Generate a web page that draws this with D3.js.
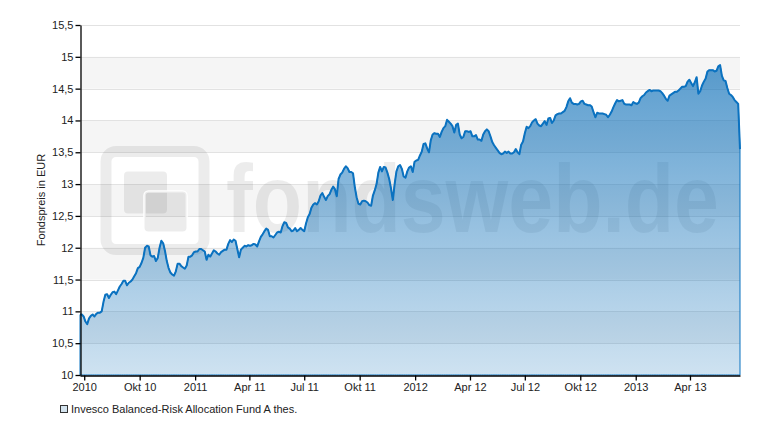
<!doctype html>
<html>
<head>
<meta charset="utf-8">
<script src="https://cdn.jsdelivr.net/npm/d3@7"></script>
<style>
  body { margin: 0; background: #fff; }
  svg text { font-family: "Liberation Sans", Arial, sans-serif; }
</style>
</head>
<body>
<script>
// fund price, sampled every 3 days from the start date
var startDate = "2010-06-24";
var stepDays = 3;
var prices = [
  10.95, 10.95, 10.92, 10.84, 10.80, 10.89, 10.93, 10.95, 10.92, 10.96,
  10.98, 10.98, 11.00, 11.15, 11.26, 11.27, 11.21, 11.26, 11.30, 11.31,
  11.27, 11.33, 11.39, 11.43, 11.48, 11.48, 11.41, 11.45, 11.47, 11.50,
  11.55, 11.60, 11.68, 11.70, 11.76, 11.84, 12.00, 12.03, 12.02, 11.88,
  11.86, 11.87, 11.79, 11.84, 12.00, 12.11, 12.07, 11.95, 11.79, 11.68,
  11.61, 11.58, 11.56, 11.63, 11.75, 11.75, 11.71, 11.69, 11.67, 11.72,
  11.86, 11.86, 11.88, 11.93, 11.94, 11.94, 11.98, 11.98, 11.96, 11.94,
  11.81, 11.89, 11.86, 11.91, 11.96, 11.94, 11.91, 11.89, 11.93, 11.95,
  11.97, 11.97, 12.06, 12.12, 12.09, 12.13, 12.11, 11.98, 11.85, 11.97,
  12.00, 12.03, 12.02, 12.04, 12.03, 12.04, 12.06, 12.05, 12.02, 12.10,
  12.17, 12.21, 12.26, 12.30, 12.28, 12.18, 12.18, 12.16, 12.20, 12.24,
  12.25, 12.24, 12.34, 12.40, 12.39, 12.32, 12.30, 12.26, 12.27, 12.31,
  12.26, 12.28, 12.31, 12.28, 12.26, 12.38, 12.48, 12.53, 12.63, 12.68,
  12.70, 12.68, 12.73, 12.82, 12.86, 12.80, 12.75, 12.81, 12.84, 12.91,
  12.96, 12.92, 12.81, 13.08, 13.15, 13.18, 13.24, 13.28, 13.25,
  13.19, 13.19, 13.17, 12.95, 12.79, 12.69, 12.68, 12.73, 12.74, 12.73,
  12.71, 12.67, 12.66, 12.82, 12.90, 13.00, 13.18, 13.27, 13.20, 13.27,
  13.26, 13.18, 13.08, 12.93, 12.75, 13.00, 13.20, 13.28, 13.30, 13.24,
  13.12, 13.10, 13.20, 13.26, 13.28, 13.19, 13.35, 13.37, 13.38, 13.45,
  13.51, 13.63, 13.64, 13.56, 13.50, 13.69, 13.78, 13.80, 13.79, 13.79,
  13.74, 13.82, 13.88, 13.91, 14.01, 13.98, 13.95, 13.91, 13.81, 13.93,
  13.95, 13.78, 13.72, 13.74, 13.83, 13.83, 13.82, 13.83, 13.75, 13.75,
  13.77, 13.70, 13.70, 13.68, 13.78, 13.83, 13.86, 13.83, 13.75, 13.66,
  13.61, 13.57, 13.53, 13.49, 13.47, 13.48, 13.51, 13.49, 13.51, 13.48,
  13.48, 13.50, 13.55, 13.50, 13.47, 13.62, 13.67, 13.80, 13.90, 13.88,
  13.91, 13.97, 14.00, 14.02, 13.95, 13.92, 13.91, 13.95, 13.99, 13.93,
  14.03, 14.04, 13.96, 14.00, 14.08, 14.10, 14.11, 14.11, 14.13, 14.15,
  14.21, 14.30, 14.35, 14.28, 14.26, 14.26, 14.25, 14.26, 14.30, 14.31,
  14.26, 14.25, 14.24, 14.24, 14.22, 14.13, 14.05, 14.12, 14.11, 14.11,
  14.11, 14.10, 14.09, 14.05, 14.09, 14.14, 14.21, 14.27, 14.32, 14.30,
  14.31, 14.32, 14.26, 14.25, 14.25, 14.25, 14.24, 14.29, 14.27, 14.26,
  14.28, 14.35, 14.38, 14.40, 14.44, 14.46, 14.48, 14.46, 14.47, 14.47,
  14.47, 14.47, 14.46, 14.43, 14.39, 14.34, 14.31, 14.39, 14.41, 14.43,
  14.45, 14.45, 14.47, 14.50, 14.53, 14.53, 14.54, 14.61, 14.64, 14.59,
  14.54, 14.60, 14.68, 14.42, 14.46, 14.55, 14.61, 14.66, 14.77, 14.79,
  14.79, 14.79, 14.77, 14.78, 14.85, 14.87, 14.70, 14.63, 14.62, 14.51,
  14.42, 14.40, 14.37, 14.32, 14.29, 14.26, 13.55
];

var yTicks = [10, 10.5, 11, 11.5, 12, 12.5, 13, 13.5, 14, 14.5, 15, 15.5];
var yTickLabels = ["10", "10,5", "11", "11,5", "12", "12,5", "13", "13,5", "14", "14,5", "15", "15,5"];
var xTickDates = ["2010-07-01", "2010-10-01", "2011-01-01", "2011-04-01", "2011-07-01", "2011-10-01",
                  "2012-01-01", "2012-04-01", "2012-07-01", "2012-10-01", "2013-01-01", "2013-04-01"];
var xTickLabels = ["2010", "Okt 10", "2011", "Apr 11", "Jul 11", "Okt 11",
                   "2012", "Apr 12", "Jul 12", "Okt 12", "2013", "Apr 13"];
var seriesName = "Invesco Balanced-Risk Allocation Fund A thes.";
var yTitle = "Fondspreis in EUR";

var width = 775, height = 440;
var margin = {top: 25, right: 35, bottom: 65, left: 80};
var lineColor = "#0b72c0";
var wmColor = "rgba(0,0,0,0.075)";

var parse = d3.timeParse("%Y-%m-%d");
var start = parse(startDate);
var data = prices.map(function(v, i) {
  return {date: d3.timeDay.offset(start, i * stepDays), value: v};
});

var x = d3.scaleTime()
  .domain(d3.extent(data, function(d) { return d.date; }))
  .range([margin.left, width - margin.right]);

var y = d3.scaleLinear()
  .domain([yTicks[0], yTicks[yTicks.length - 1]])
  .range([height - margin.bottom, margin.top]);

var svg = d3.select("body").append("svg")
  .attr("width", width)
  .attr("height", height);

var defs = svg.append("defs");
var grad = defs.append("linearGradient")
  .attr("id", "areaFill")
  .attr("x1", 0).attr("y1", 0).attr("x2", 0).attr("y2", 1);
grad.append("stop").attr("offset", "0%").attr("stop-color", "#0d6fb8").attr("stop-opacity", 0.68);
grad.append("stop").attr("offset", "100%").attr("stop-color", "#0d6fb8").attr("stop-opacity", 0.2);

// alternating bands
var bands = d3.range(1, yTicks.length - 1, 2);
svg.append("g").selectAll("rect")
  .data(bands)
  .enter().append("rect")
  .attr("x", x.range()[0])
  .attr("width", x.range()[1] - x.range()[0])
  .attr("y", function(i) { return y(yTicks[i + 1]); })
  .attr("height", function(i) { return y(yTicks[i]) - y(yTicks[i + 1]); })
  .attr("fill", "#f5f5f5");

svg.append("g").selectAll("line")
  .data(yTicks.slice(1))
  .enter().append("line")
  .attr("x1", x.range()[0])
  .attr("x2", x.range()[1])
  .attr("y1", function(d) { return Math.round(y(d)) + 0.5; })
  .attr("y2", function(d) { return Math.round(y(d)) + 0.5; })
  .attr("stroke", "#e2e2e2");

// watermark
var wm = svg.append("g").attr("fill", wmColor);
wm.append("rect")
  .attr("x", 106).attr("y", 151.5).attr("width", 98).attr("height", 98)
  .attr("rx", 10)
  .attr("fill", "none")
  .attr("stroke", wmColor)
  .attr("stroke-width", 11);
wm.append("rect")
  .attr("x", 124).attr("y", 171.5).attr("width", 43).attr("height", 42).attr("rx", 4);
wm.append("rect")
  .attr("x", 144.5).attr("y", 191.5).attr("width", 42).attr("height", 40).attr("rx", 4)
  .attr("stroke", "#fff").attr("stroke-width", 2.5).attr("paint-order", "stroke");
// squeeze the word horizontally to the width of the original
var wmText = wm.append("g").append("text")
  .attr("x", 0).attr("y", 0)
  .attr("font-size", 96)
  .attr("font-weight", "bold")
  .text("fondsweb.de");
var natural = wmText.node().getComputedTextLength() || 587;
d3.select(wmText.node().parentNode)
  .attr("transform", "translate(226,232) scale(" + (493 / natural) + ",1)");

var area = d3.area()
  .x(function(d) { return x(d.date); })
  .y0(y(yTicks[0]))
  .y1(function(d) { return y(d.value); });

var line = d3.line()
  .x(function(d) { return x(d.date); })
  .y(function(d) { return y(d.value); });

svg.append("path")
  .datum(data)
  .attr("d", area)
  .attr("fill", "url(#areaFill)")
  .attr("stroke", lineColor)
  .attr("stroke-width", 1);

svg.append("path")
  .datum(data)
  .attr("d", line)
  .attr("fill", "none")
  .attr("stroke", lineColor)
  .attr("stroke-width", 2)
  .attr("stroke-linejoin", "round");

// axes
svg.append("g")
  .attr("transform", "translate(" + (margin.left + 0.5) + ",0)")
  .call(d3.axisLeft(y)
    .tickValues(yTicks)
    .tickFormat(function(d, i) { return yTickLabels[i]; })
    .tickSizeInner(5)
    .tickSizeOuter(0)
    .tickPadding(2));

svg.append("g")
  .attr("transform", "translate(0," + (height - margin.bottom + 0.5) + ")")
  .call(d3.axisBottom(x)
    .tickValues(xTickDates.map(parse))
    .tickFormat(function(d, i) { return xTickLabels[i]; })
    .tickSizeInner(5)
    .tickSizeOuter(0)
    .tickPadding(3));

svg.selectAll(".domain, .tick line").attr("stroke", "#000").attr("stroke-width", 1.3);
svg.selectAll(".tick text")
  .attr("font-family", "'Liberation Sans', Arial, sans-serif")
  .attr("font-size", 11)
  .attr("fill", "#222");

svg.append("text")
  .attr("transform", "translate(45," + ((margin.top + height - margin.bottom) / 2) + ") rotate(-90)")
  .attr("text-anchor", "middle")
  .attr("font-size", 11)
  .attr("fill", "#222")
  .text(yTitle);

// legend
svg.append("rect")
  .attr("x", 60.5).attr("y", 405.5).attr("width", 7).attr("height", 7)
  .attr("fill", "#d3e3ee")
  .attr("stroke", "#333");

svg.append("text")
  .attr("x", 71).attr("y", 413)
  .attr("font-size", 11)
  .attr("fill", "#222")
  .text(seriesName);
</script>
</body>
</html>
